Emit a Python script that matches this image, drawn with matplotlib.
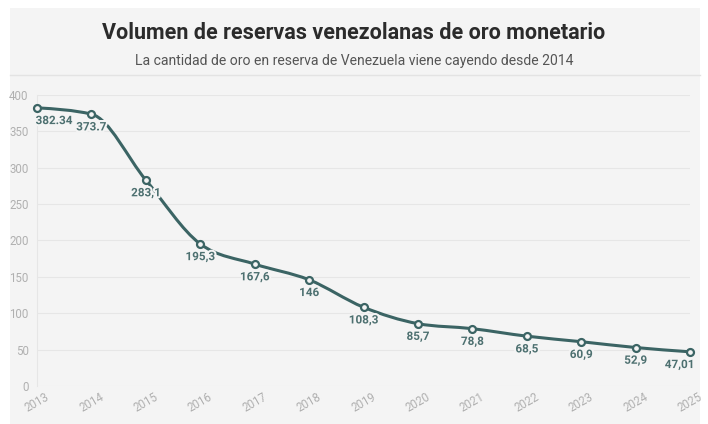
import numpy as np
import matplotlib
matplotlib.use('Agg')
import matplotlib.pyplot as plt
import matplotlib.patheffects as pe
from matplotlib.path import Path
from matplotlib.patches import PathPatch, Rectangle

years = [2013, 2014, 2015, 2016, 2017, 2018, 2019, 2020, 2021, 2022, 2023, 2024, 2025]
reservas = [382.34, 373.7, 283.1, 195.3, 167.6, 146, 108.3, 85.7, 78.8, 68.5, 60.9, 52.9, 47.01]
etiquetas = ["382.34", "373.7", "283,1", "195,3", "167,6", "146", "108,3",
             "85,7", "78,8", "68,5", "60,9", "52,9", "47,01"]
yticks = [0, 50, 100, 150, 200, 250, 300, 350, 400]

titulo = "Volumen de reservas venezolanas de oro monetario"
subtitulo = "La cantidad de oro en reserva de Venezuela viene cayendo desde 2014"

LINE = "#3b6464"
LABEL = "#4d7070"
TICK = "#b0b0b0"
GRID = "#e6e6e6"
BG = "#f4f4f4"

plt.rcParams['font.family'] = ['Roboto', 'DejaVu Sans']


def monotone_path(x, y):
    # curva monotona (tipo d3.curveMonotoneX) como beziers cubicos
    x = np.asarray(x, float)
    y = np.asarray(y, float)
    n = len(x)
    h = np.diff(x)
    s = np.diff(y) / h
    m = np.zeros(n)
    for i in range(1, n - 1):
        p = (s[i - 1] * h[i] + s[i] * h[i - 1]) / (h[i - 1] + h[i])
        m[i] = (np.sign(s[i - 1]) + np.sign(s[i])) * min(abs(s[i - 1]), abs(s[i]), 0.5 * abs(p))
    m[0] = (3 * s[0] - m[1]) / 2
    m[-1] = (3 * s[-1] - m[-2]) / 2
    verts = [(x[0], y[0])]
    codes = [Path.MOVETO]
    for i in range(n - 1):
        d = h[i] / 3
        verts += [(x[i] + d, y[i] + m[i] * d),
                  (x[i + 1] - d, y[i + 1] - m[i + 1] * d),
                  (x[i + 1], y[i + 1])]
        codes += [Path.CURVE4] * 3
    return Path(verts, codes)


W, H = 708, 424
fig = plt.figure(figsize=(W / 100, H / 100), dpi=100)
fig.patch.set_facecolor("white")

# panel gris de fondo
fig.patches.append(Rectangle((10 / W, 0), 690 / W, 1 - 8 / H, transform=fig.transFigure,
                             facecolor=BG, edgecolor="none", zorder=-10))
fig.add_artist(plt.Line2D([10 / W, 700 / W], [1 - 75 / H, 1 - 75 / H],
                          transform=fig.transFigure, color="#e3e3e3", lw=1))

fig.text(354 / W, 1 - 33 / H, titulo, ha="center", va="center",
         fontsize=15.5, fontweight="bold", color="#2b2b2b")
fig.text(354 / W, 1 - 61 / H, subtitulo, ha="center", va="center",
         fontsize=10.1, color="#555555")

ax = fig.add_axes([37 / W, 1 - 386 / H, (690 - 37) / W, (386 - 95) / H])
ax.set_facecolor("none")
ax.set_xlim(2013, 2025)
ax.set_ylim(0, 400)

for sp in ["top", "right", "bottom"]:
    ax.spines[sp].set_visible(False)
ax.spines["left"].set_color(GRID)
ax.spines["left"].set_linewidth(0.8)

ax.set_yticks(yticks)
ax.set_xticks(years)
ax.tick_params(axis="both", length=0, colors=TICK, labelsize=8.3)
ax.tick_params(axis="y", pad=6)
ax.tick_params(axis="x", pad=3)
for lab in ax.get_xticklabels():
    lab.set_rotation(30)
    lab.set_ha("center")
ax.grid(axis="y", color=GRID, lw=0.8)
ax.set_axisbelow(True)

ax.add_patch(PathPatch(monotone_path(years, reservas), facecolor="none",
                       edgecolor=LINE, lw=2.2, capstyle="round", clip_on=False, zorder=3))
ax.plot(years, reservas, "o", ms=5, mfc=BG, mec=LINE, mew=1.6, clip_on=False, zorder=4)

for i, (x, y, t) in enumerate(zip(years, reservas, etiquetas)):
    ha = "center"
    dx = 0
    if i == 0:
        ha = "left"
        dx = -1
    elif i == len(years) - 1:
        ha = "right"
        dx = 3
    ax.annotate(t, (x, y), xytext=(dx, -4.5), textcoords="offset points",
                ha=ha, va="top", fontsize=8.4, fontweight="bold", color=LABEL, zorder=5,
                path_effects=[pe.withStroke(linewidth=3, foreground=BG)])

fig.savefig("out.png", dpi=100)
